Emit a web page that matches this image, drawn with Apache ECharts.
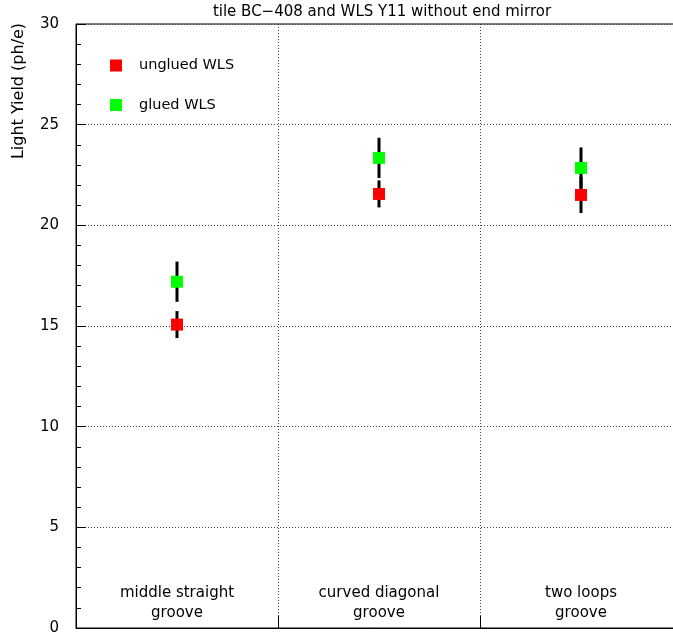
<!DOCTYPE html>
<html>
<head>
<meta charset="utf-8">
<script src="https://cdn.jsdelivr.net/npm/echarts@6/dist/echarts.min.js"></script>
<style>
  html, body { margin: 0; padding: 0; background: #fff; }
  #chart { width: 673px; height: 632px; }
</style>
</head>
<body>
<div id="chart"></div>
<script>
// Groove layouts (x categories)
const categories = ['middle straight\ngroove', 'curved diagonal\ngroove', 'two loops\ngroove'];
// Light yield in photoelectrons, with symmetric errors
const ungluedYield = [15.07, 21.56, 21.51];
const ungluedError = [0.67, 0.67, 0.90];
const gluedYield = [17.20, 23.35, 22.85];
const gluedError = [1.00, 1.00, 1.02];
// Y axis range and ticks
const yMin = 0, yMax = 30, yStep = 5;

const FONT = 'DejaVu Sans';

function errorRows(values, errors) {
  return values.map((v, i) => [i, v - errors[i], v + errors[i]]);
}

function renderErrorBar(params, api) {
  const lo = api.coord([api.value(0), api.value(1)]);
  const hi = api.coord([api.value(0), api.value(2)]);
  return {
    type: 'line',
    shape: { x1: lo[0], y1: lo[1], x2: hi[0], y2: hi[1] },
    style: { stroke: '#000', lineWidth: 3 }
  };
}

const chart = echarts.init(document.getElementById('chart'), null, { renderer: 'canvas' });
chart.setOption({
  animation: false,
  backgroundColor: '#fff',
  title: {
    text: 'tile BC\u2212408 and WLS Y11 without end mirror',
    left: 377, top: 0, textAlign: 'center',
    textStyle: { fontFamily: FONT, fontSize: 15, fontWeight: 'normal', color: '#000' }
  },
  legend: {
    orient: 'vertical', left: 105, top: 53, itemGap: 24.5,
    itemWidth: 12, itemHeight: 12, icon: 'rect',
    data: ['unglued WLS', 'glued WLS'],
    textStyle: { fontFamily: FONT, fontSize: 14.5, color: '#000', padding: [0, 0, 0, 12] }
  },
  grid: {
    left: 76, top: 24, width: 606, height: 604,
    outerBoundsMode: 'none', containLabel: false,
    show: true, borderColor: '#000', borderWidth: 1
  },
  xAxis: {
    type: 'category', data: categories, boundaryGap: true,
    axisLine: { lineStyle: { color: '#000', width: 1 } },
    axisTick: { show: true, inside: true, length: 12, lineStyle: { color: '#000' } },
    axisLabel: {
      inside: true, margin: 5, fontFamily: FONT, fontSize: 15, color: '#000',
      lineHeight: 20, align: 'center'
    },
    splitLine: { show: true, lineStyle: { color: '#444', type: [1, 2], width: 1 } }
  },
  yAxis: {
    type: 'value', min: yMin, max: yMax, interval: yStep,
    axisLine: { show: true, lineStyle: { color: '#000', width: 1 } },
    axisTick: { show: true, inside: true, length: 10, lineStyle: { color: '#000' } },
    minorTick: { show: true, splitNumber: 5, length: 5, lineStyle: { color: '#000' } },
    axisLabel: { margin: 17, fontFamily: FONT, fontSize: 15, color: '#000' },
    splitLine: { show: true, lineStyle: { color: '#444', type: [1, 2], width: 1 } }
  },
  graphic: [{
    type: 'text', x: 19, y: 91, rotation: Math.PI / 2,
    style: {
      text: 'Light Yield (ph/e)', fontFamily: FONT, fontSize: 16, fill: '#000',
      align: 'center', verticalAlign: 'middle'
    }
  }],
  series: [
    {
      type: 'custom', name: 'unglued err', renderItem: renderErrorBar,
      data: errorRows(ungluedYield, ungluedError), z: 2, silent: true
    },
    {
      type: 'custom', name: 'glued err', renderItem: renderErrorBar,
      data: errorRows(gluedYield, gluedError), z: 2, silent: true
    },
    {
      type: 'scatter', name: 'unglued WLS', symbol: 'rect', symbolSize: 12,
      itemStyle: { color: '#ff0000', opacity: 1 }, data: ungluedYield, z: 5
    },
    {
      type: 'scatter', name: 'glued WLS', symbol: 'rect', symbolSize: 12,
      itemStyle: { color: '#00ff00', opacity: 1 }, data: gluedYield, z: 5
    }
  ]
});
</script>
</body>
</html>
